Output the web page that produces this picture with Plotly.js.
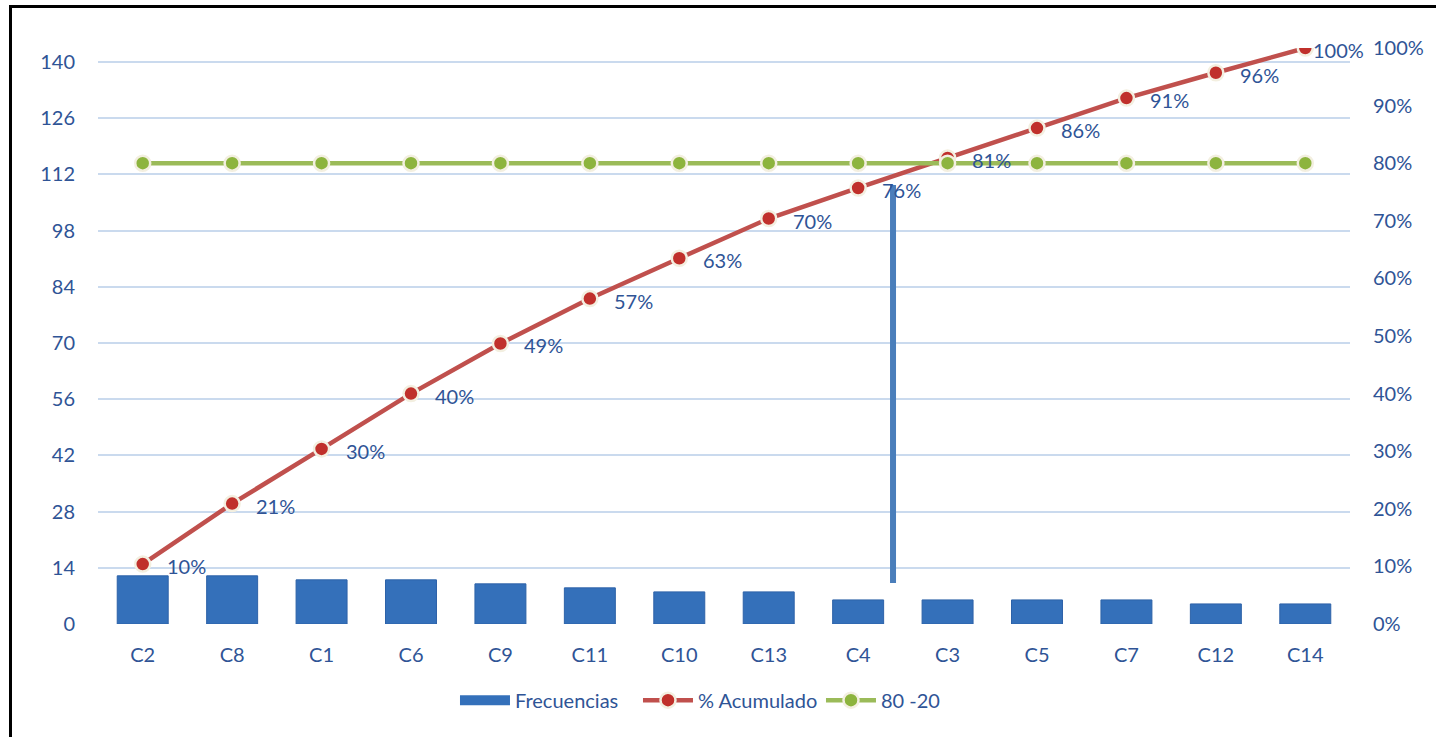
<!DOCTYPE html>
<html>
<head>
<meta charset="utf-8">
<script src="https://cdn.plot.ly/plotly-3.0.1.min.js"></script>
<style>
html,body{margin:0;padding:0;background:#fff;}
#wrap{position:relative;width:1436px;height:737px;overflow:hidden;}
#chart{position:absolute;left:0;top:0;width:1436px;height:737px;}
#frame{position:absolute;left:9px;top:5px;width:1440px;height:760px;border-top:3px solid #000;border-left:3px solid #000;pointer-events:none;}
</style>
</head>
<body>
<div id="wrap"><div id="chart"></div><div id="frame"></div></div>
<script>
const categories = ['C2','C8','C1','C6','C9','C11','C10','C13','C4','C3','C5','C7','C12','C14'];
const frecuencias = [12,12,11,11,10,9,8,8,6,6,6,6,5,5];
const acumulado = [0.104,0.209,0.304,0.40,0.487,0.565,0.635,0.704,0.757,0.809,0.861,0.913,0.957,1.0];
const acumuladoLabels = ['10%','21%','30%','40%','49%','57%','63%','70%','76%','81%','86%','91%','96%','100%'];
const regla = [0.8,0.8,0.8,0.8,0.8,0.8,0.8,0.8,0.8,0.8,0.8,0.8,0.8,0.8];
const leftTicks = [0,14,28,42,56,70,84,98,112,126,140];

const txtColor = '#2F5496';
const fam = 'Lato, "Open Sans", sans-serif';
const font = {family:fam, size:20, color:txtColor};
const barColor = '#3470BA';

const traces = [
  {type:'bar', x:categories, y:frecuencias, name:'Frecuencias', showlegend:false,
   marker:{color:barColor, line:{color:'#2D62A8', width:1}}, yaxis:'y'},
  {type:'scatter', mode:'lines', x:[null], y:[null], name:'Frecuencias', yaxis:'y',
   line:{color:barColor, width:13}, hoverinfo:'skip'},
  {type:'scatter', mode:'lines+markers', x:categories, y:acumulado, name:'% Acumulado', yaxis:'y2',
   line:{color:'#C0504D', width:4.5},
   marker:{color:'#C0302B', size:15, line:{color:'#F3EFE0', width:2.5}}},
  {type:'scatter', mode:'lines+markers', x:categories, y:regla, name:'80 -20', yaxis:'y2',
   line:{color:'#9BBB59', width:4.5},
   marker:{color:'#8DB43E', size:15, line:{color:'#F3EFE0', width:2.5}}}
];

const lastIdx = categories.length - 1;
const annotations = categories.map((c, i) => ({
  x: c, y: acumulado[i], xref:'x', yref:'y2', text: acumuladoLabels[i],
  showarrow:false, xanchor:'left', yanchor:'middle', xshift: i === lastIdx ? 6 : 22, yshift:-2,
  font:{family:fam, size:20, color:txtColor}
}));

const layout = {
  width:1436, height:737,
  margin:{l:98, r:86, t:48, b:113},
  paper_bgcolor:'rgba(0,0,0,0)', plot_bgcolor:'rgba(0,0,0,0)',
  font:font,
  showlegend:true,
  legend:{orientation:'h', xref:'container', yref:'container', x:0.508, xanchor:'center', y:0.05, yanchor:'middle',
          font:{family:fam, size:20, color:txtColor}, itemwidth:50, traceorder:'normal',
          entrywidth:118, entrywidthmode:'pixels'},
  bargap:0.43,
  xaxis:{type:'category', range:[-0.5, categories.length - 0.5], showgrid:false, zeroline:false, showline:false, ticks:'',
         tickfont:font, ticklabelstandoff:17},
  yaxis:{range:[0,143.5], tickvals:leftTicks, ticktext:leftTicks.map(String),
         showgrid:true, gridcolor:'#CADAEE', gridwidth:2, zeroline:false, showline:false,
         tickfont:font, ticklabelstandoff:22},
  yaxis2:{range:[0,1], overlaying:'y', side:'right', dtick:0.1, tickformat:'.0%',
          showgrid:false, zeroline:false, showline:false, tickfont:font, ticklabelstandoff:22},
  annotations: annotations,
  shapes:[
    {type:'line', xref:'x', yref:'y', x0:8.39, x1:8.39, y0:10.2, y1:109.4,
     line:{color:'#4A7EBB', width:6}, layer:'above'}
  ]
};

Plotly.newPlot('chart', traces, layout, {displayModeBar:false, staticPlot:true});
</script>
</body>
</html>
